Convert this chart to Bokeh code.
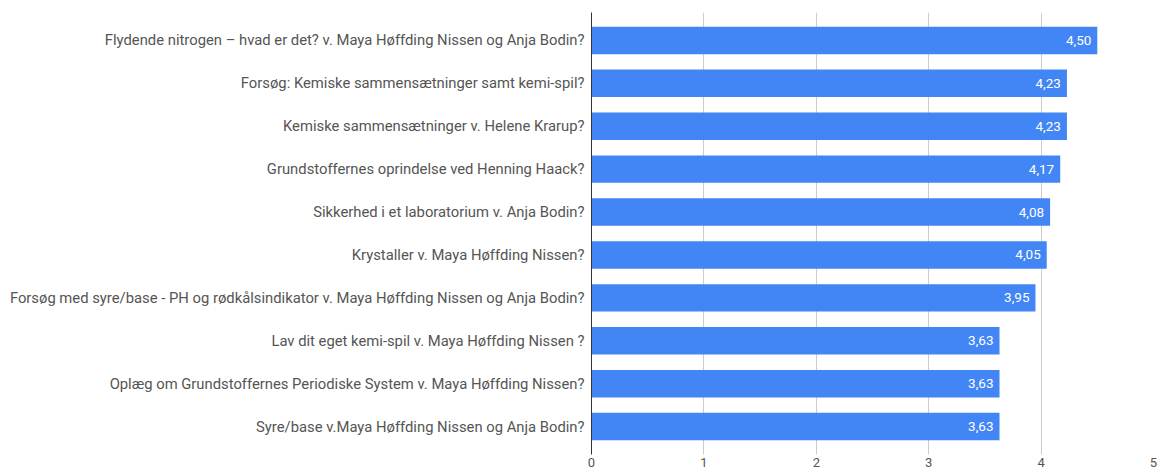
from bokeh.plotting import figure
from bokeh.models import FactorRange, Range1d, ColumnDataSource, FixedTicker
from bokeh.core.properties import value
from bokeh.embed import file_html
from bokeh.resources import INLINE

categories = [
    "Flydende nitrogen – hvad er det? v. Maya Høffding Nissen og Anja Bodin?",
    "Forsøg: Kemiske sammensætninger samt kemi-spil?",
    "Kemiske sammensætninger v. Helene Krarup?",
    "Grundstoffernes oprindelse ved Henning Haack?",
    "Sikkerhed i et laboratorium v. Anja Bodin?",
    "Krystaller v. Maya Høffding Nissen?",
    "Forsøg med syre/base - PH og rødkålsindikator v. Maya Høffding Nissen og Anja Bodin?",
    "Lav dit eget kemi-spil v. Maya Høffding Nissen ?",
    "Oplæg om Grundstoffernes Periodiske System v. Maya Høffding Nissen?",
    "Syre/base v.Maya Høffding Nissen og Anja Bodin?",
]
values = [4.50, 4.23, 4.23, 4.17, 4.08, 4.05, 3.95, 3.63, 3.63, 3.63]
x_ticks = [0, 1, 2, 3, 4, 5]

labels = [f"{v:.2f}".replace(".", ",") for v in values]
src = ColumnDataSource(data=dict(cat=categories, val=values, lab=labels))

FONT = "Roboto"

p = figure(
    y_range=FactorRange(factors=list(reversed(categories)), range_padding=0.15,
                        range_padding_units="absolute"),
    x_range=Range1d(0, 5),
    frame_width=562, frame_height=442,
    min_border_left=591, min_border_right=4, min_border_top=12, min_border_bottom=0,
    output_backend="svg", toolbar_location=None,
)
p.outline_line_color = None
p.background_fill_color = "white"
p.border_fill_color = "white"

p.hbar(y="cat", right="val", left=0, height=0.64, source=src,
       fill_color="#4285F4", line_color=None)
p.text(x="val", y="cat", text="lab", source=src, x_offset=-6,
       text_align="right", text_baseline="middle",
       text_font=value(FONT), text_font_size="13.5px", text_color="white")

# x axis
p.xaxis.ticker = FixedTicker(ticks=x_ticks)
p.xaxis.axis_line_color = None
p.xaxis.major_tick_line_color = None
p.xaxis.minor_tick_line_color = None
p.xaxis.major_tick_out = 0
p.xaxis.major_label_standoff = 3
p.xaxis.major_label_text_font = FONT
p.xaxis.major_label_text_font_size = "13px"
p.xaxis.major_label_text_color = "#555555"

# y axis
p.yaxis.axis_line_color = "#333333"
p.yaxis.axis_line_width = 1
p.yaxis.major_tick_line_color = None
p.yaxis.major_tick_out = 0
p.yaxis.major_label_standoff = 7
p.yaxis.major_label_text_font = FONT
p.yaxis.major_label_text_font_size = "14.8px"
p.yaxis.major_label_text_color = "#555555"

p.xgrid.grid_line_color = "#cccccc"
p.xgrid.grid_line_width = 1
p.ygrid.grid_line_color = None

open("out.html", "w").write(file_html(p, INLINE))
